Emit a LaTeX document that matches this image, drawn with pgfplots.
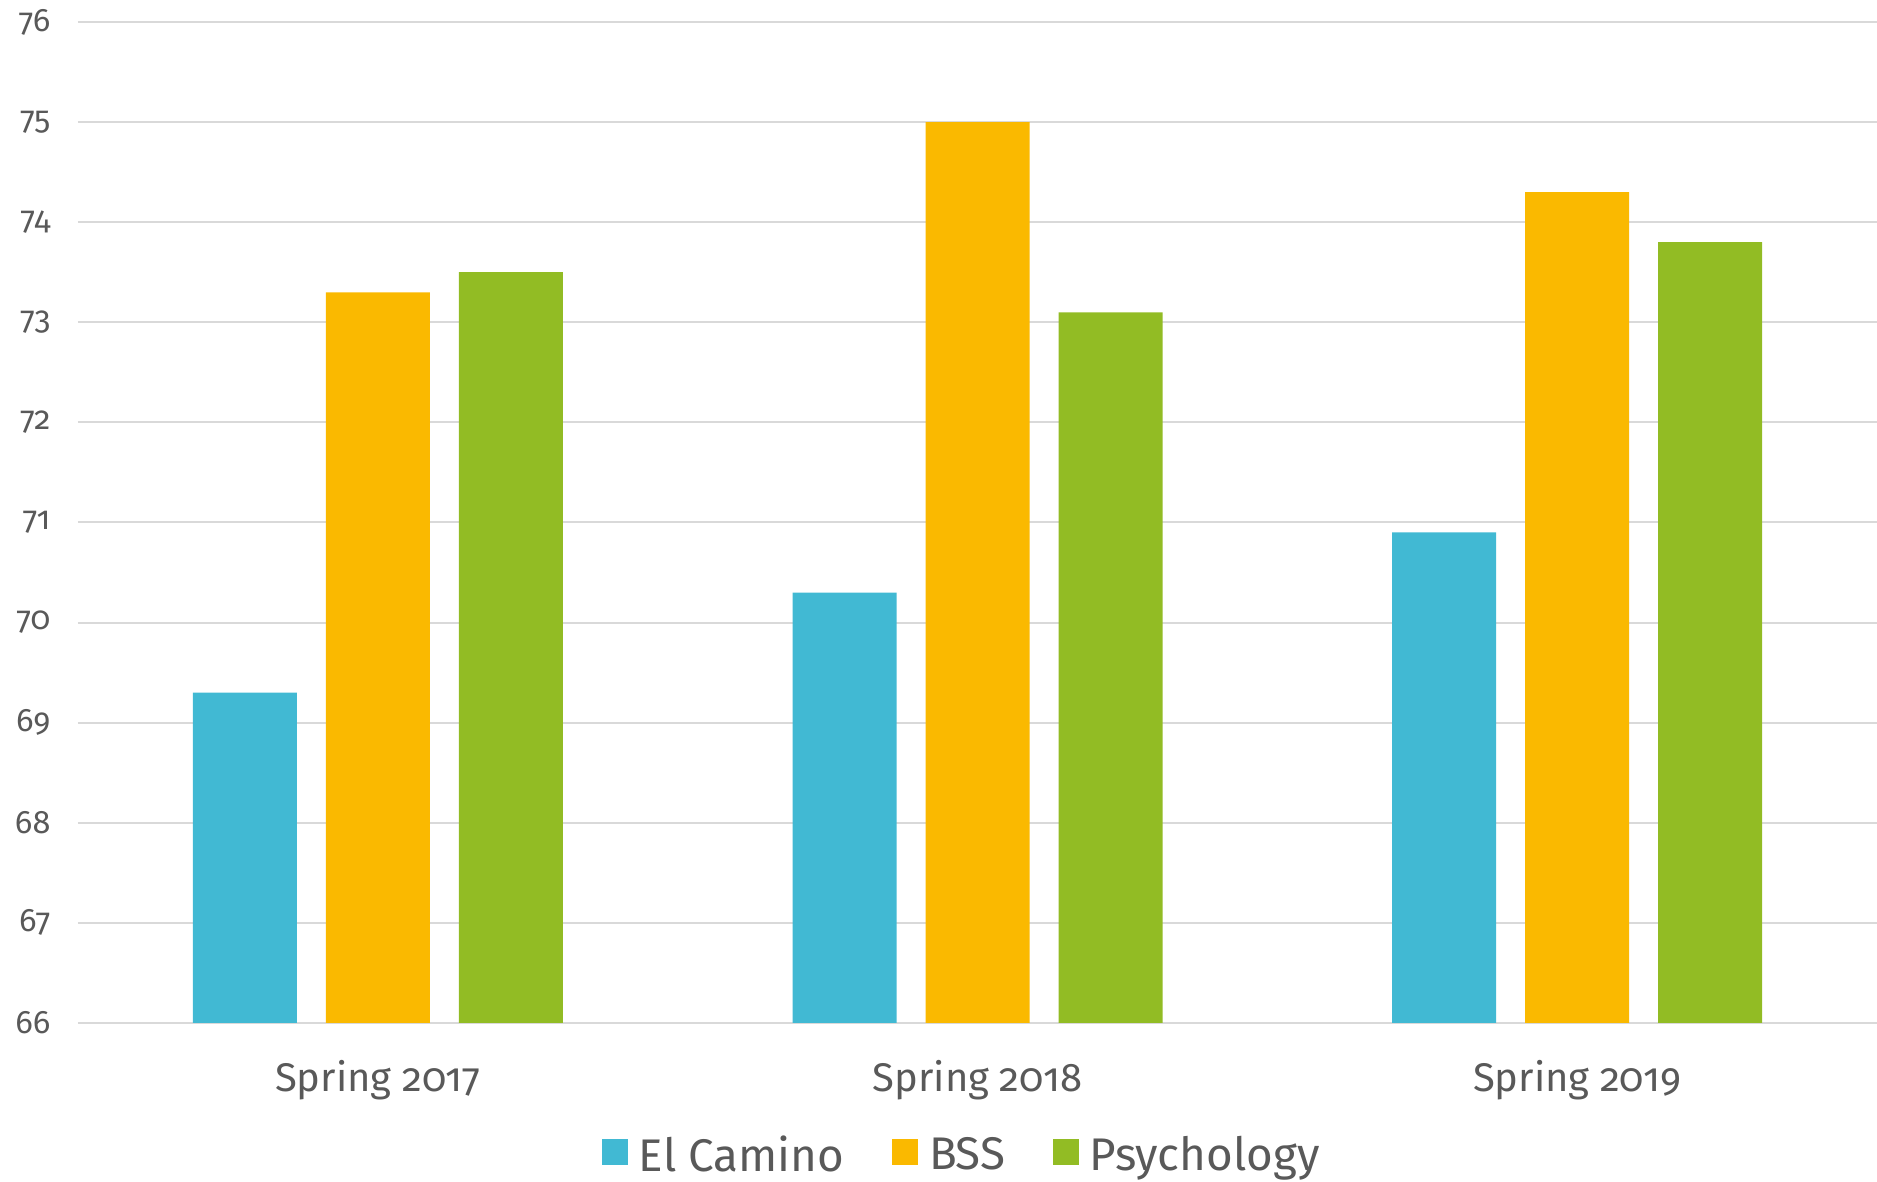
\documentclass[border=0pt]{standalone}
\usepackage{fontspec}
\setmainfont[Numbers=OldStyle]{Fira Sans}
\usepackage{pgfplots}
\pgfplotsset{compat=1.18}
\definecolor{ecblue}{HTML}{41B9D3}
\definecolor{bssgold}{HTML}{FAB900}
\definecolor{psygreen}{HTML}{92BC24}
\definecolor{gridgray}{HTML}{D9D9D9}
\definecolor{txtgray}{HTML}{595959}
\begin{document}
\begin{tikzpicture}
\useasboundingbox (-31.2pt,-63.6pt) rectangle (719.6pt,409.2pt);
\begin{axis}[
    at={(0pt,0pt)}, anchor=south west,
    scale only axis,
    width=719.6pt, height=400.4pt,
    ybar=11.6pt, bar width=41.6pt,
    xmin=-0.5, xmax=2.5,
    ymin=66, ymax=76,
    ytick={66,67,...,76},
    xtick={0,1,2},
    xticklabels={Spring 2017, Spring 2018, Spring 2019},
    axis line style={draw=none},
    major tick length=0pt,
    ymajorgrids,
    grid style={gridgray, line width=0.8pt},
    /pgf/number format/assume math mode=true,
    yticklabel style={font=\fontsize{13}{15}\selectfont, text=txtgray, xshift=-7.5pt},
    xticklabel style={font=\fontsize{16}{19}\selectfont, text=txtgray, yshift=-11.4pt},
    legend style={
        at={(0.492,-0.132)}, anchor=center,
        draw=none, font=\fontsize{18.3}{22}\selectfont, text=txtgray,
        legend columns=-1,
        /tikz/every odd column/.append style={column sep=2.4pt},
        /tikz/every even column/.append style={column sep=17pt},
    },
    legend image code/.code={\fill[#1] (0pt,-4pt) rectangle (10.5pt,6.5pt);},
]
\addplot[fill=ecblue, draw=none] coordinates {(0,69.3) (1,70.3) (2,70.9)};
\addplot[fill=bssgold, draw=none] coordinates {(0,73.3) (1,75.0) (2,74.3)};
\addplot[fill=psygreen, draw=none] coordinates {(0,73.5) (1,73.1) (2,73.8)};
\legend{El Camino, BSS, Psychology}
\end{axis}
\end{tikzpicture}
\end{document}
